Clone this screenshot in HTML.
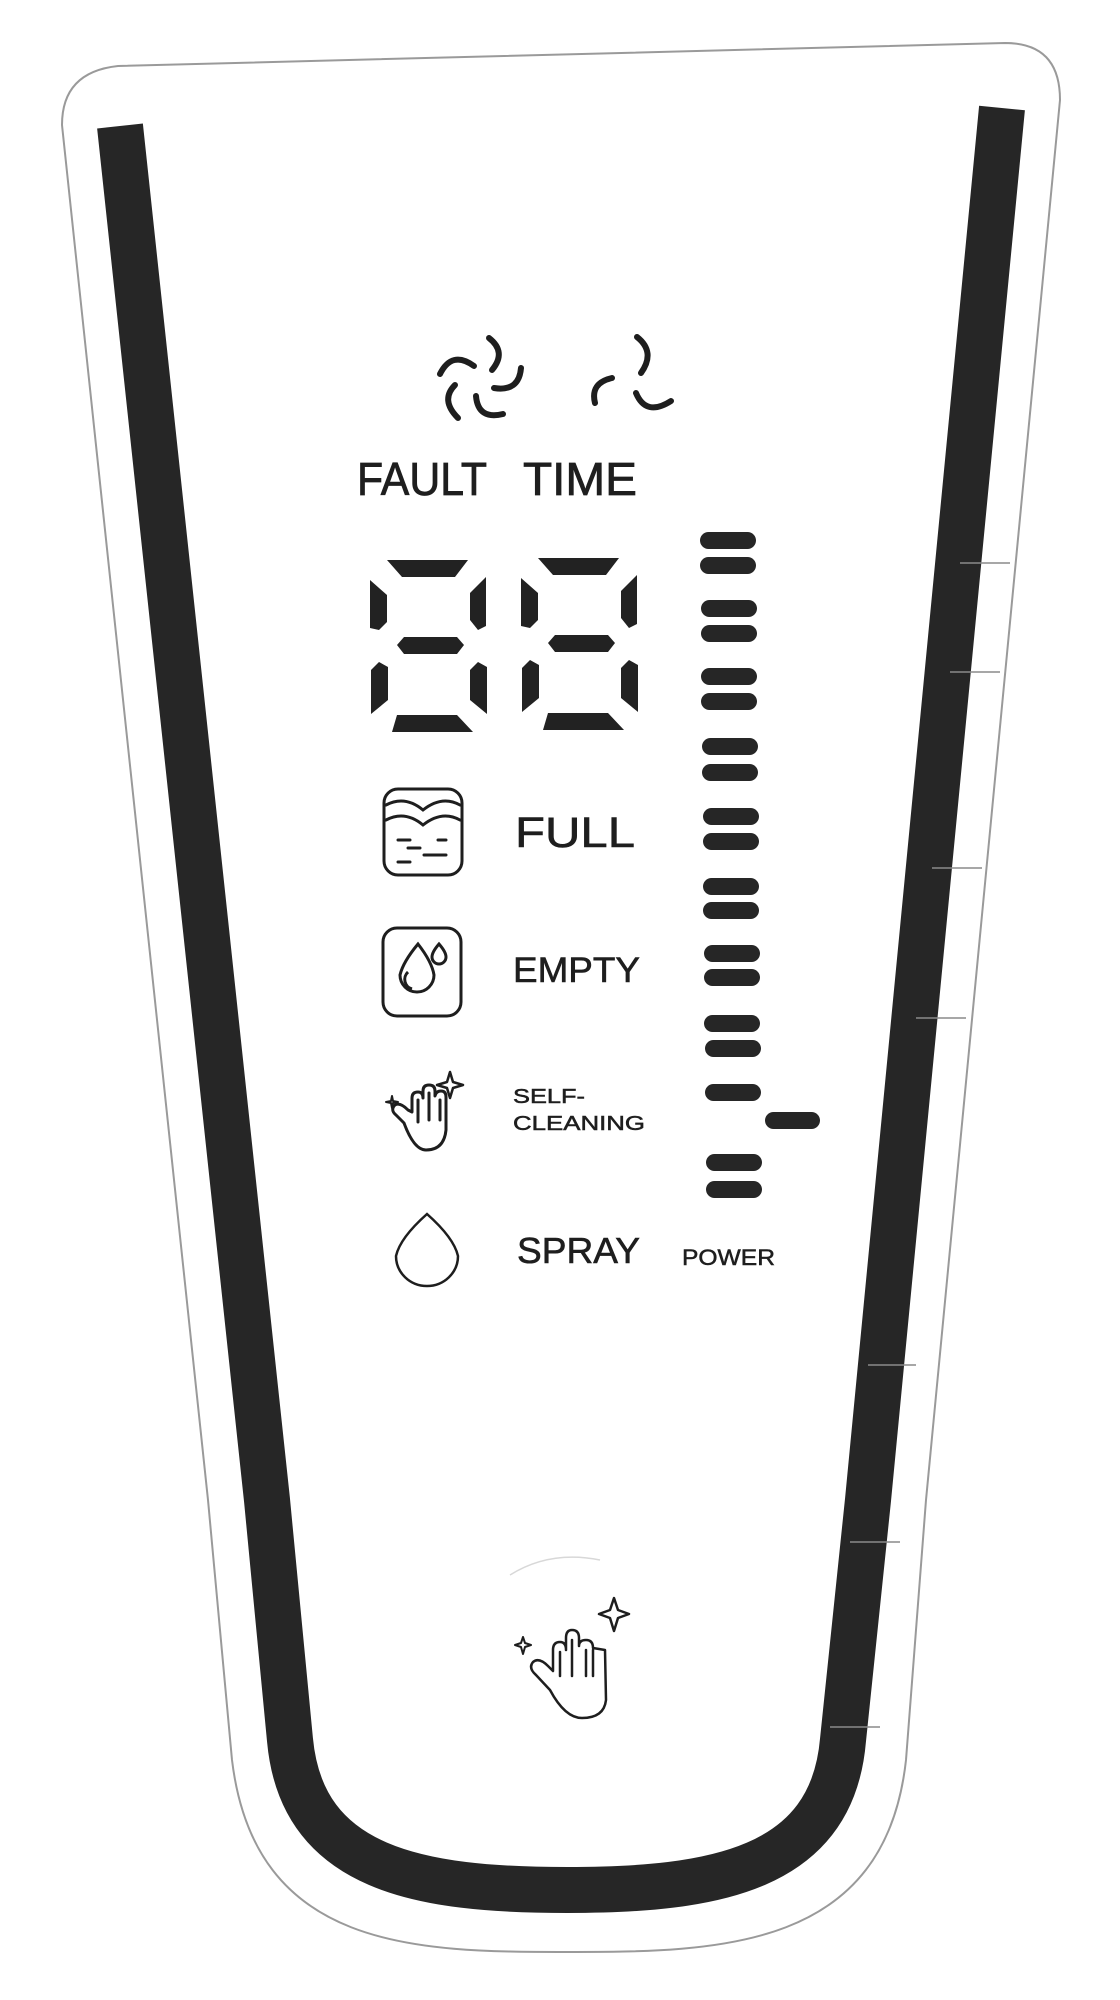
<!DOCTYPE html>
<html><head><meta charset="utf-8"><style>
html,body{margin:0;padding:0;background:#fff;}
svg{display:block;}
text{font-family:"Liberation Sans",sans-serif;fill:#1e1e1e;}
</style></head><body>
<svg width="1120" height="2000" viewBox="0 0 1120 2000" xmlns="http://www.w3.org/2000/svg">
<!-- outer outline -->
<path d="M62,125 Q62,72 118,66 L1005,43 Q1060,43 1060,100 L926,1500 L906,1760 C885,1950 720,1952 567,1952 C415,1952 255,1950 232,1760 L208,1500 Z" fill="none" stroke="#9a9a9a" stroke-width="2"/>
<!-- thick U bar -->
<path d="M120,126 L267,1500 L290,1740 C302,1870 420,1890 567,1890 C714,1890 832,1870 843,1740 L868,1500 L1002,108" fill="none" stroke="#262626" stroke-width="46" stroke-linejoin="round"/>
<g stroke="#8a8a8a" stroke-width="1.5">
<line x1="960" y1="563" x2="1010" y2="563"/><line x1="950" y1="672" x2="1000" y2="672"/>
<line x1="932" y1="868" x2="982" y2="868"/><line x1="916" y1="1018" x2="966" y2="1018"/>
<line x1="868" y1="1365" x2="916" y2="1365"/><line x1="850" y1="1542" x2="900" y2="1542"/><line x1="830" y1="1727" x2="880" y2="1727"/>
</g>
<!-- fans -->
<g fill="none" stroke="#1e1e1e" stroke-width="6" stroke-linecap="round">
<path d="M440,374 Q452,350 474,366"/>
<path d="M489,338 Q507,352 492,370"/>
<path d="M521,368 Q519,392 494,388"/>
<path d="M458,418 Q440,400 455,385"/>
<path d="M476,396 Q478,420 503,414"/>
<path d="M595,403 Q590,383 612,378"/>
<path d="M637,337 Q656,352 641,373"/>
<path d="M636,393 Q646,417 671,401"/>
</g>
<text x="357" y="495" font-size="46" textLength="130" lengthAdjust="spacingAndGlyphs" stroke="#1e1e1e" stroke-width="0.8">FAULT</text>
<text x="523" y="495" font-size="46" textLength="114" lengthAdjust="spacingAndGlyphs" stroke="#1e1e1e" stroke-width="0.8">TIME</text>
<!-- digits -->
<g fill="#222">
<polygon points="387,560 468,560 455,577 402,577"/>
<polygon points="370,580 387,595 387,622 379,630 370,628"/>
<polygon points="486,577 486,626 478,630 470,620 470,593"/>
<polygon points="404,637 457,637 464,645 457,654 404,654 397,645"/>
<polygon points="371,670 379,662 388,667 388,700 371,714"/>
<polygon points="478,662 487,667 487,714 470,700 470,670"/>
<polygon points="397,715 457,715 473,732 392,732"/>
</g>
<g fill="#222" transform="translate(151,-2)">
<polygon points="387,560 468,560 455,577 402,577"/>
<polygon points="370,580 387,595 387,622 379,630 370,628"/>
<polygon points="486,577 486,626 478,630 470,620 470,593"/>
<polygon points="404,637 457,637 464,645 457,654 404,654 397,645"/>
<polygon points="371,670 379,662 388,667 388,700 371,714"/>
<polygon points="478,662 487,667 487,714 470,700 470,670"/>
<polygon points="397,715 457,715 473,732 392,732"/>
</g>
<!-- level bars -->
<g fill="#262626">
<rect x="700" y="532" width="56" height="17" rx="8.5"/><rect x="700" y="557" width="56" height="17" rx="8.5"/>
<rect x="701" y="600" width="56" height="17" rx="8.5"/><rect x="701" y="625" width="56" height="17" rx="8.5"/>
<rect x="701" y="668" width="56" height="17" rx="8.5"/><rect x="701" y="693" width="56" height="17" rx="8.5"/>
<rect x="702" y="738" width="56" height="17" rx="8.5"/><rect x="702" y="764" width="56" height="17" rx="8.5"/>
<rect x="703" y="808" width="56" height="17" rx="8.5"/><rect x="703" y="833" width="56" height="17" rx="8.5"/>
<rect x="703" y="878" width="56" height="17" rx="8.5"/><rect x="703" y="902" width="56" height="17" rx="8.5"/>
<rect x="704" y="945" width="56" height="17" rx="8.5"/><rect x="704" y="969" width="56" height="17" rx="8.5"/>
<rect x="704" y="1015" width="56" height="17" rx="8.5"/><rect x="705" y="1040" width="56" height="17" rx="8.5"/>
<rect x="705" y="1084" width="56" height="17" rx="8.5"/>
<rect x="765" y="1112" width="55" height="17" rx="8.5"/>
<rect x="706" y="1154" width="56" height="17" rx="8.5"/><rect x="706" y="1181" width="56" height="17" rx="8.5"/>
</g>
<!-- FULL icon -->
<g fill="none" stroke="#1e1e1e" stroke-width="3" stroke-linecap="round">
<rect x="384" y="789" width="78" height="86" rx="14"/>
<path d="M386,805 Q405,795 423,810 Q442,795 460,805"/>
<path d="M386,820 Q405,810 423,825 Q442,810 460,820"/>
<path d="M398,840 L410,840 M438,840 L446,840 M408,848 L420,848 M424,855 L446,855 M398,862 L410,862"/>
</g>
<text x="515" y="847" font-size="43" textLength="120" lengthAdjust="spacingAndGlyphs" stroke="#1e1e1e" stroke-width="0.6">FULL</text>
<!-- EMPTY icon -->
<g fill="none" stroke="#1e1e1e" stroke-width="3">
<rect x="383" y="928" width="78" height="88" rx="14"/>
<path d="M418,944 Q403,962 400,975 A17,17 0 0 0 434,975 Q432,962 418,944 Z"/>
<path d="M408,972 A10,10 0 0 0 412,989"/>
<path d="M439,944 Q432,952 432,957 A7,7 0 0 0 446,957 Q446,952 439,944 Z"/>
</g>
<text x="513" y="982" font-size="35" textLength="127" lengthAdjust="spacingAndGlyphs" stroke="#1e1e1e" stroke-width="0.6">EMPTY</text>
<!-- self-cleaning hand icon -->
<g fill="none" stroke="#1e1e1e" stroke-width="3" stroke-linecap="round" stroke-linejoin="round">
<path d="M404,1123 L396,1115 Q390,1110 395,1105 Q400,1102 408,1110 L412,1112 L412,1098 Q412,1092 418,1092 Q423,1092 423,1098 L423,1091 Q423,1085 429,1085 Q435,1085 435,1091 L435,1096 Q436,1091 441,1091 Q446,1091 446,1097 L446,1130 Q444,1150 426,1150 Q414,1150 404,1123 Z"/>
<path d="M418,1100 L418,1122 M429,1093 L429,1120 M440,1100 L440,1120"/>
<path d="M450,1072 L453,1082 L463,1085 L453,1088 L450,1098 L447,1088 L437,1085 L447,1082 Z" stroke-width="2.5"/>
<path d="M392,1096 L393,1101 L398,1102 L393,1103 L392,1108 L391,1103 L386,1102 L391,1101 Z" stroke-width="2"/>
</g>
<text x="513" y="1103" font-size="20" textLength="72" lengthAdjust="spacingAndGlyphs" stroke="#1e1e1e" stroke-width="0.5">SELF-</text>
<text x="513" y="1130" font-size="20" textLength="132" lengthAdjust="spacingAndGlyphs" stroke="#1e1e1e" stroke-width="0.5">CLEANING</text>
<!-- spray drop -->
<path d="M427,1214 Q400,1238 396,1256 A31,30 0 0 0 458,1256 Q454,1238 427,1214 Z" fill="none" stroke="#1e1e1e" stroke-width="2.5"/>
<text x="517" y="1263" font-size="36" textLength="123" lengthAdjust="spacingAndGlyphs" stroke="#1e1e1e" stroke-width="0.6">SPRAY</text>
<text x="682" y="1265" font-size="22" textLength="93" lengthAdjust="spacingAndGlyphs" stroke="#1e1e1e" stroke-width="0.5">POWER</text>
<!-- bottom touch button -->
<path d="M510,1575 Q550,1550 600,1560" fill="none" stroke="#d8d8d8" stroke-width="1.5"/>
<g fill="none" stroke="#1e1e1e" stroke-width="2.5" stroke-linecap="round" stroke-linejoin="round">
<path d="M550,1690 L536,1675 Q528,1668 533,1662 Q539,1657 548,1666 L553,1671 L553,1650 Q553,1642 560,1642 Q566,1642 566,1650 L566,1638 Q566,1630 572,1630 Q579,1630 579,1638 L579,1646 Q579,1640 586,1640 Q593,1640 593,1648 L605,1650 L606,1700 Q604,1718 582,1718 Q565,1718 550,1690 Z"/>
<path d="M560,1652 L560,1676 M572,1640 L572,1676 M586,1650 L586,1676 M593,1650 L593,1676"/>
<path d="M614,1598 L618,1610 L629,1614 L618,1618 L614,1631 L610,1618 L599,1614 L610,1610 Z"/>
<path d="M523,1637 L525,1643 L531,1645 L525,1647 L523,1654 L521,1647 L515,1645 L521,1643 Z" stroke-width="2"/>
</g>
</svg>
</body></html>
